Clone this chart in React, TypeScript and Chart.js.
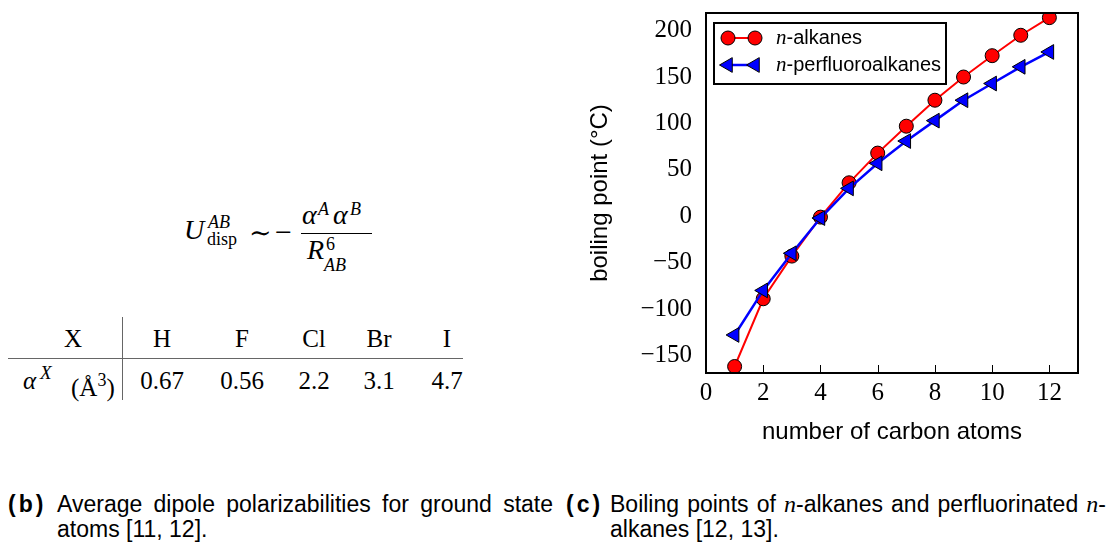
import React, { useEffect, useRef } from 'react';
import { Chart, registerables } from 'chart.js';

Chart.register(...registerables);

// ---------- data ----------
const carbonAtoms = [1, 2, 3, 4, 5, 6, 7, 8, 9, 10, 11, 12];
const alkaneBoilingPoints = [-162, -89, -43, -1, 36, 68, 97, 125, 150, 173, 195, 214];
const perfluoroalkaneBoilingPoints = [-128, -80, -40, -2, 30, 57, 81, 103, 125, 143, 161, 177];
const seriesNames = ['alkanes', 'perfluoroalkanes'];
const xTickValues = [0, 2, 4, 6, 8, 10, 12];
const yTickValues = [-150, -100, -50, 0, 50, 100, 150, 200];
const xRange = [0, 13];
const yRange = [-169, 219];

const tableElements = ['H', 'F', 'Cl', 'Br', 'I'];
const tablePolarizabilities = ['0.67', '0.56', '2.2', '3.1', '4.7'];

// ---------- styles ----------
const SERIF = '"Liberation Serif", "DejaVu Serif", serif';
const SANS = '"Liberation Sans", Arial, sans-serif';
const columnCenters = [162, 242, 314, 379, 447];

type TProps = {
  x?: number;
  cx?: number;
  y: number;
  size: number;
  italic?: boolean;
  family?: string;
  children: React.ReactNode;
};

function T({ x, cx, y, size, italic, family = SERIF, children }: TProps) {
  const style: React.CSSProperties = {
    position: 'absolute',
    top: y - size * 0.84,
    fontSize: size,
    lineHeight: `${size}px`,
    fontFamily: family,
    fontStyle: italic ? 'italic' : 'normal',
    whiteSpace: 'nowrap',
    color: '#000',
  };
  if (cx !== undefined) {
    style.left = cx;
    style.transform = 'translateX(-50%)';
  } else {
    style.left = x;
  }
  return <span style={style}>{children}</span>;
}

function drawMarker(ctx: CanvasRenderingContext2D, style: string, x: number, y: number, r: number, fill: string) {
  ctx.save();
  ctx.fillStyle = fill;
  ctx.strokeStyle = '#000';
  ctx.lineWidth = 1;
  ctx.beginPath();
  if (style === 'circle') {
    ctx.arc(x, y, r, 0, Math.PI * 2);
  } else {
    let rad = -Math.PI / 2;
    ctx.moveTo(x + Math.sin(rad) * r, y - Math.cos(rad) * r);
    rad += (2 * Math.PI) / 3;
    ctx.lineTo(x + Math.sin(rad) * r, y - Math.cos(rad) * r);
    rad += (2 * Math.PI) / 3;
    ctx.lineTo(x + Math.sin(rad) * r, y - Math.cos(rad) * r);
    ctx.closePath();
  }
  ctx.fill();
  ctx.stroke();
  ctx.restore();
}

const frameLegendPlugin = {
  id: 'frameLegend',
  afterDatasetsDraw(chart: any) {
    const { ctx, chartArea: a, scales } = chart;
    ctx.save();
    // inward ticks on bottom
    ctx.strokeStyle = '#000';
    ctx.lineWidth = 1;
    xTickValues.forEach((v) => {
      const px = Math.round(scales.x.getPixelForValue(v)) + 0.5;
      ctx.beginPath();
      ctx.moveTo(px, a.bottom);
      ctx.lineTo(px, a.bottom - 8);
      ctx.stroke();
    });
    // frame
    ctx.lineWidth = 2;
    ctx.strokeRect(a.left, a.top, a.right - a.left, a.bottom - a.top);

    // legend
    const lx = a.left + 8;
    const ly = a.top + 10;
    const lw = 232;
    const lh = 61;
    ctx.fillStyle = '#fff';
    ctx.fillRect(lx, ly, lw, lh);
    ctx.lineWidth = 2;
    ctx.strokeStyle = '#000';
    ctx.strokeRect(lx, ly, lw, lh);

    chart.data.datasets.forEach((ds: any, i: number) => {
      const cy = ly + 15 + i * 27;
      const x1 = lx + 14;
      const x2 = lx + 41;
      ctx.strokeStyle = ds.borderColor;
      ctx.lineWidth = ds.borderWidth;
      ctx.beginPath();
      ctx.moveTo(x1, cy);
      ctx.lineTo(x2, cy);
      ctx.stroke();
      drawMarker(ctx, ds.pointStyle, x1, cy, ds.pointRadius, ds.pointBackgroundColor);
      drawMarker(ctx, ds.pointStyle, x2, cy, ds.pointRadius, ds.pointBackgroundColor);
      ctx.fillStyle = '#000';
      ctx.textBaseline = 'middle';
      ctx.textAlign = 'left';
      let tx = lx + 62;
      ctx.font = `italic 21px ${SERIF}`;
      ctx.fillText('n', tx, cy);
      tx += ctx.measureText('n').width;
      ctx.font = `20px ${SANS}`;
      ctx.fillText('-' + seriesNames[i], tx, cy);
    });
    ctx.restore();
  },
};

const fmtTick = (v: number) => (v < 0 ? '\u2212' + Math.abs(v) : String(v));

export default function App() {
  const ref = useRef<HTMLCanvasElement>(null);

  useEffect(() => {
    if (!ref.current) return;
    const chart = new Chart(ref.current, {
      type: 'line',
      data: {
        datasets: [
          {
            label: 'n-alkanes',
            data: carbonAtoms.map((x, i) => ({ x, y: alkaneBoilingPoints[i] })),
            borderColor: '#ff0000',
            backgroundColor: '#ff0000',
            borderWidth: 2,
            pointStyle: 'circle',
            pointRadius: 7,
            pointBackgroundColor: '#ff0000',
            pointBorderColor: '#000',
            pointBorderWidth: 1,
            tension: 0,
            clip: 0,
            order: 1,
          } as any,
          {
            label: 'n-perfluoroalkanes',
            data: carbonAtoms.map((x, i) => ({ x, y: perfluoroalkaneBoilingPoints[i] })),
            borderColor: '#0000ff',
            backgroundColor: '#0000ff',
            borderWidth: 2.5,
            pointStyle: 'triangle',
            rotation: -90,
            pointRotation: -90,
            pointRadius: 8.5,
            pointBackgroundColor: '#0000ff',
            pointBorderColor: '#000',
            pointBorderWidth: 1,
            tension: 0,
            clip: 0,
            order: 0,
          } as any,
        ],
      },
      options: {
        animation: false,
        responsive: true,
        maintainAspectRatio: false,
        layout: { padding: { top: 13, right: 31, left: 0, bottom: 0 } },
        plugins: { legend: { display: false }, tooltip: { enabled: false } },
        scales: {
          x: {
            type: 'linear',
            min: xRange[0],
            max: xRange[1],
            afterBuildTicks: (s: any) => {
              s.ticks = xTickValues.map((value) => ({ value }));
            },
            afterFit: (s: any) => {
              s.height = 87;
              s.paddingLeft = 0;
              s.paddingRight = 0;
            },
            grid: { display: false, drawTicks: false },
            border: { display: false },
            ticks: {
              color: '#000',
              font: { family: SERIF, size: 25 },
              padding: 5,
              maxRotation: 0,
              autoSkip: false,
              callback: (v: any) => fmtTick(Number(v)),
            },
            title: {
              display: true,
              text: 'number of carbon atoms',
              color: '#000',
              font: { family: SANS, size: 24 },
              padding: { top: 0, bottom: 13 },
            },
          },
          y: {
            type: 'linear',
            min: yRange[0],
            max: yRange[1],
            afterBuildTicks: (s: any) => {
              s.ticks = yTickValues.map((value) => ({ value }));
            },
            afterFit: (s: any) => {
              s.width = 126;
              s.paddingTop = 0;
              s.paddingBottom = 0;
            },
            grid: { display: false, drawTicks: false },
            border: { display: false },
            ticks: {
              color: '#000',
              font: { family: SERIF, size: 25 },
              padding: 14,
              autoSkip: false,
              callback: (v: any) => fmtTick(Number(v)),
            },
            title: {
              display: true,
              text: 'boiling point (\u00B0C)',
              color: '#000',
              font: { family: SANS, size: 24 },
              padding: { top: 6, bottom: 0 },
            },
          },
        },
      },
      plugins: [frameLegendPlugin],
    } as any);
    return () => chart.destroy();
  }, []);

  const captionStyle: React.CSSProperties = {
    position: 'absolute',
    top: 492,
    fontFamily: SANS,
    fontSize: 23,
    lineHeight: '25px',
    color: '#000',
  };
  const mathN: React.CSSProperties = { fontFamily: SERIF, fontSize: 24 };

  return (
    <div
      style={{
        position: 'fixed',
        left: 0,
        top: 0,
        width: 1109,
        height: 545,
        background: '#fff',
        overflow: 'hidden',
      }}
    >
      {/* formula */}
      <T x={184} y={240} size={28} italic>U</T>
      <T x={208} y={228} size={18} italic>AB</T>
      <T x={207} y={245} size={18}>disp</T>
      <T x={249} y={243} size={27}>{'\u223C'}</T>
      <T x={275} y={242} size={30}>{'\u2212'}</T>
      <T x={302} y={225} size={28} italic>α</T>
      <T x={318} y={215} size={18} italic>A</T>
      <T x={333} y={225} size={28} italic>α</T>
      <T x={350} y={215} size={18} italic>B</T>
      <div style={{ position: 'absolute', left: 301, top: 233, width: 71, height: 1.2, background: '#000' }} />
      <T x={307} y={260} size={28} italic>R</T>
      <T x={326} y={250} size={18}>6</T>
      <T x={324} y={271} size={18} italic>AB</T>

      {/* table */}
      <T cx={73} y={347} size={25}>X</T>
      {tableElements.map((el, i) => (
        <T key={el} cx={columnCenters[i]} y={347} size={25}>{el}</T>
      ))}
      <T x={23} y={389} size={25} italic>α</T>
      <T x={40} y={379} size={19} italic>X</T>
      <T x={71} y={389} size={25}>
        (Å<sup style={{ fontSize: 18, verticalAlign: 10 }}>3</sup>)
      </T>
      {tablePolarizabilities.map((v, i) => (
        <T key={v} cx={columnCenters[i]} y={389} size={25}>{v}</T>
      ))}
      <div style={{ position: 'absolute', left: 8, top: 358, width: 455, height: 1.3, background: '#666' }} />
      <div style={{ position: 'absolute', left: 122, top: 317, width: 1.3, height: 83, background: '#666' }} />

      {/* chart */}
      <div style={{ position: 'absolute', left: 580, top: 0, width: 529, height: 460 }}>
        <canvas ref={ref} />
      </div>

      {/* captions */}
      <div style={{ ...captionStyle, left: 8, width: 545 }}>
        <span style={{ position: 'absolute', left: 0, top: 0, fontWeight: 700, letterSpacing: 3 }}>(b)</span>
        <div style={{ marginLeft: 49, textAlign: 'justify', textAlignLast: 'justify' }}>
          Average dipole polarizabilities for ground state
        </div>
        <div style={{ marginLeft: 49 }}>atoms [11, 12].</div>
      </div>
      <div style={{ ...captionStyle, left: 566, width: 540 }}>
        <span style={{ position: 'absolute', left: 0, top: 0, fontWeight: 700, letterSpacing: 3 }}>(c)</span>
        <div style={{ marginLeft: 44, textAlign: 'justify', textAlignLast: 'justify' }}>
          Boiling points of <i style={mathN}>n</i>-alkanes and perfluorinated <i style={mathN}>n</i>-
        </div>
        <div style={{ marginLeft: 44 }}>alkanes [12, 13].</div>
      </div>
    </div>
  );
}
